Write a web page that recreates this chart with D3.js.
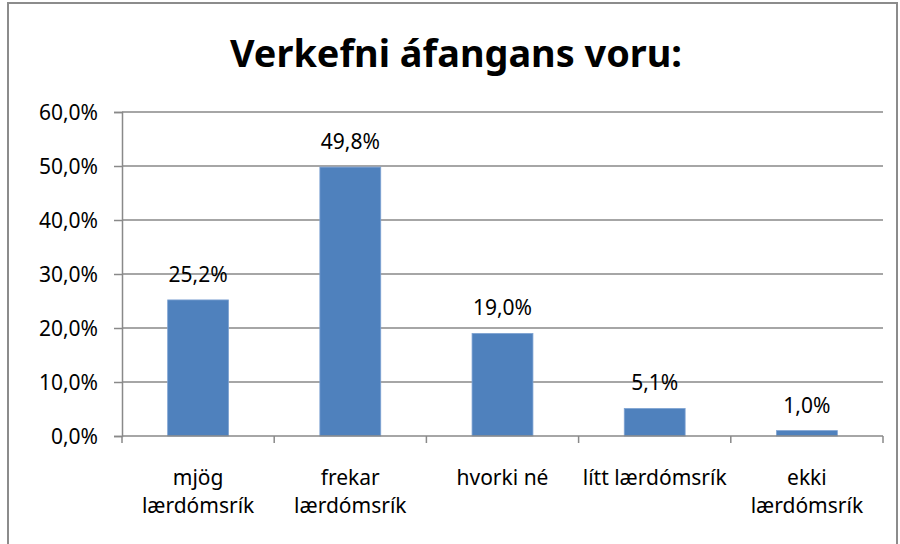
<!DOCTYPE html>
<html lang="is">
<head>
    <meta charset="utf-8" />
    <title>Verkefni áfangans voru</title>
    <script src="https://d3js.org/d3.v7.min.js"></script>
    <style>
        body { margin: 0; background: #fff; }
        svg text { font-family: "Noto Sans", "Open Sans", sans-serif; fill: #000; }
    </style>
</head>
<body>
    <script>
        // data
        const categories = ["mjög lærdómsrík", "frekar lærdómsrík", "hvorki né", "lítt lærdómsrík", "ekki lærdómsrík"];
        const categoryLines = [["mjög", "lærdómsrík"], ["frekar", "lærdómsrík"], ["hvorki né"], ["lítt lærdómsrík"], ["ekki", "lærdómsrík"]];
        const values = [25.2, 49.8, 19.0, 5.1, 1.0];
        const yTicks = [0, 10, 20, 30, 40, 50, 60];
        const title = "Verkefni áfangans voru:";

        const width = 900;
        const height = 544;
        const plot = { left: 122, right: 883, top: 112, bottom: 436 };
        const fontSize = 21;
        const fmt = d => d.toFixed(1).replace(".", ",") + "%";

        const svg = d3.select("body")
            .append("svg")
            .attr("width", width)
            .attr("height", height);

        // outer frame
        svg.append("rect")
            .attr("x", 8)
            .attr("y", 3)
            .attr("width", 889)
            .attr("height", 560)
            .attr("fill", "none")
            .attr("stroke", "#8c8c8c")
            .attr("stroke-width", 2);

        // title
        svg.append("text")
            .attr("x", 456)
            .attr("y", 67)
            .attr("text-anchor", "middle")
            .attr("font-size", 38)
            .attr("font-weight", "bold")
            .attr("textLength", 452)
            .attr("lengthAdjust", "spacingAndGlyphs")
            .text(title);

        const x = d3.scaleBand()
            .domain(categories)
            .range([plot.left, plot.right])
            .padding(0);

        const y = d3.scaleLinear()
            .domain([0, 60])
            .range([plot.bottom, plot.top]);

        // gridlines
        svg.append("g")
            .selectAll("line")
            .data(yTicks.filter(d => d > 0))
            .enter()
            .append("line")
            .attr("x1", plot.left)
            .attr("x2", plot.right)
            .attr("y1", d => y(d))
            .attr("y2", d => y(d))
            .attr("stroke", "#898989")
            .attr("stroke-width", 1.5);

        // bars
        const barW = x.bandwidth() * 0.4;
        svg.append("g")
            .selectAll("rect")
            .data(values)
            .enter()
            .append("rect")
            .attr("x", (d, i) => x(categories[i]) + (x.bandwidth() - barW) / 2)
            .attr("y", d => y(d))
            .attr("width", barW)
            .attr("height", d => y(0) - y(d))
            .attr("fill", "#4f81bd")
            .attr("stroke", "#7fa3d3")
            .attr("stroke-width", 0.8);

        // data labels
        svg.append("g")
            .selectAll("text")
            .data(values)
            .enter()
            .append("text")
            .attr("x", (d, i) => x(categories[i]) + x.bandwidth() / 2)
            .attr("y", d => y(d) - 18)
            .attr("text-anchor", "middle")
            .attr("font-size", fontSize)
            .text(fmt);

        // y axis
        const yAxis = d3.axisLeft(y)
            .tickValues(yTicks)
            .tickFormat(fmt)
            .tickSize(8)
            .tickPadding(16);

        const gy = svg.append("g")
            .attr("transform", `translate(${plot.left},0)`)
            .call(yAxis);
        gy.select(".domain").attr("stroke", "#898989").attr("stroke-width", 1.5);
        gy.selectAll(".tick line").attr("stroke", "#898989").attr("stroke-width", 1.5);
        gy.selectAll(".tick text")
            .attr("font-size", fontSize)
            .attr("font-family", null)
            .attr("dy", "0.35em")
            .attr("fill", "#000");

        // x axis: line + ticks at category boundaries
        const gx = svg.append("g");
        gx.append("line")
            .attr("x1", plot.left)
            .attr("x2", plot.right)
            .attr("y1", y(0))
            .attr("y2", y(0))
            .attr("stroke", "#898989")
            .attr("stroke-width", 1.5);

        const bounds = categories.map(c => x(c)).concat([x(categories[categories.length - 1]) + x.bandwidth()]);
        gx.selectAll("line.tk")
            .data(bounds)
            .enter()
            .append("line")
            .attr("class", "tk")
            .attr("x1", d => d)
            .attr("x2", d => d)
            .attr("y1", y(0))
            .attr("y2", y(0) + 7)
            .attr("stroke", "#898989")
            .attr("stroke-width", 1.5);

        // category labels
        const labels = gx.selectAll("text")
            .data(categoryLines)
            .enter()
            .append("text")
            .attr("text-anchor", "middle")
            .attr("font-size", fontSize);

        labels.selectAll("tspan")
            .data((d, i) => d.map(line => ({ line, i })))
            .enter()
            .append("tspan")
            .attr("x", d => x(categories[d.i]) + x.bandwidth() / 2)
            .attr("y", (d, j) => 485 + j * 28)
            .text(d => d.line);
    </script>
</body>
</html>
